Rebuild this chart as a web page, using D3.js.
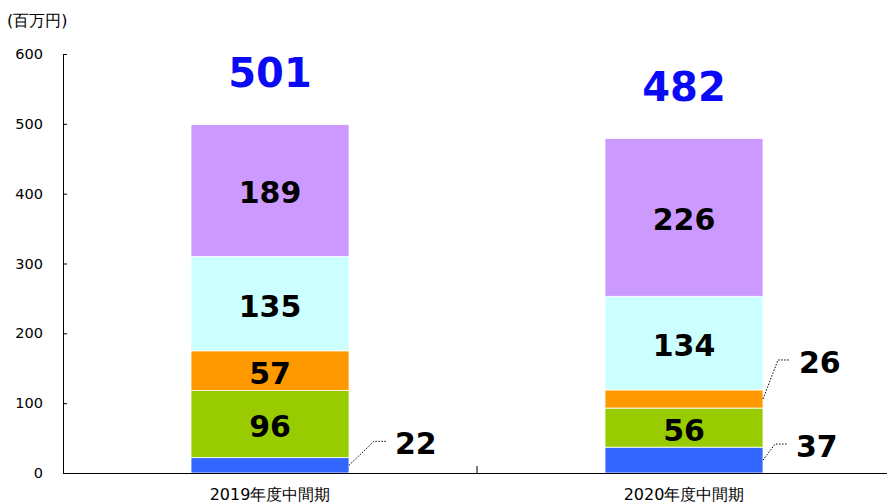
<!DOCTYPE html>
<html>
<head>
<meta charset="utf-8">
<script src="https://cdn.jsdelivr.net/npm/d3@7"></script>
<style>
  body { margin: 0; background: #fff; }
  text { font-family: "DejaVu Sans", Verdana, sans-serif; }
</style>
</head>
<body>
<div id="app"></div>
<script>
const periods = ["2019年度中間期", "2020年度中間期"];
const segments = ["s1", "s2", "s3", "s4", "s5"];
const segColors = ["#3366ff", "#99cc00", "#ff9900", "#ccffff", "#cc99ff"];
const values2019 = [22, 96, 57, 135, 189];
const values2020 = [37, 56, 26, 134, 226];
const totals = [501, 482];
const yTicks = [0, 100, 200, 300, 400, 500, 600];

const width = 887, height = 503;
const plotLeft = 63, plotRight = 891, plotTop = 54, plotBottom = 473;

const svg = d3.select("#app").append("svg")
    .attr("width", width)
    .attr("height", height);

const x = d3.scaleBand().domain(periods).range([plotLeft, plotRight]).paddingInner(0).paddingOuter(0);
const y = d3.scaleLinear().domain([0, 600]).range([plotBottom, plotTop]);
const barW = 158;

const rows = [values2019, values2020];
const stacked = rows.map((vals, i) => {
    let acc = 0;
    return vals.map((v, j) => {
        const d = { period: periods[i], key: segments[j], y0: acc, y1: acc + v, v: v, color: segColors[j] };
        acc += v;
        return d;
    });
});

// bars
stacked.forEach((col) => {
    svg.append("g").selectAll("rect").data(col).join("rect")
        .attr("x", d => x(d.period) + x.bandwidth() / 2 - barW / 2)
        .attr("width", barW)
        .attr("y", d => y(d.y1))
        .attr("height", d => y(d.y0) - y(d.y1))
        .attr("fill", d => d.color)
        .attr("stroke", "#fff")
        .attr("stroke-width", 0.8);
});

// axes
const yAxis = svg.append("g").attr("transform", `translate(${plotLeft},0)`)
    .call(d3.axisRight(y).tickValues(yTicks).tickSize(4).tickFormat(""));
yAxis.select(".domain").attr("stroke", "#000");
yAxis.selectAll("line").attr("stroke", "#000");

svg.append("g").selectAll("text").data(yTicks).join("text")
    .attr("x", 43)
    .attr("y", d => y(d))
    .attr("dy", "0.35em")
    .attr("text-anchor", "end")
    .attr("font-size", 14.5)
    .attr("fill", "#000")
    .text(d => d);

const xAxis = svg.append("g").attr("transform", `translate(0,${plotBottom})`)
    .call(d3.axisBottom(x).tickSize(0).tickFormat(""));
xAxis.select(".domain").attr("stroke", "#000").attr("stroke-width", 1.2);
// category divider tick
svg.append("line")
    .attr("x1", x(periods[1])).attr("x2", x(periods[1]))
    .attr("y1", plotBottom).attr("y2", plotBottom - 7)
    .attr("stroke", "#000");

svg.append("g").selectAll("text").data(periods).join("text")
    .attr("x", d => x(d) + x.bandwidth() / 2)
    .attr("y", 494)
    .attr("dy", "0.35em")
    .attr("text-anchor", "middle")
    .attr("font-size", 16)
    .text(d => d);

svg.append("text")
    .attr("x", 7).attr("y", 20)
    .attr("dy", "0.35em")
    .attr("font-size", 16)
    .text("(百万円)");

// totals
svg.append("g").selectAll("text").data(periods).join("text")
    .attr("x", d => x(d) + x.bandwidth() / 2)
    .attr("y", (d, i) => i === 0 ? 73 : 87)
    .attr("dy", "0.35em")
    .attr("text-anchor", "middle")
    .attr("font-size", 40)
    .attr("font-weight", "bold")
    .attr("fill", "#0a0af5")
    .text((d, i) => totals[i]);

// inside labels (large enough segments)
const inside = stacked.flat().filter(d => d.v >= 50);
svg.append("g").selectAll("text").data(inside).join("text")
    .attr("x", d => x(d.period) + x.bandwidth() / 2)
    .attr("y", d => y((d.y0 + d.y1) / 2))
    .attr("dy", "0.43em")
    .attr("text-anchor", "middle")
    .attr("font-size", 30)
    .attr("font-weight", "bold")
    .attr("fill", "#000")
    .text(d => d.v);

// outside labels with dotted leaders
const outside = stacked.flat().filter(d => d.v < 50);
const leaderShape = {
    "2019年度中間期s1": { dx: 25, rise: 24 },
    "2020年度中間期s3": { dx: 15, rise: 39 },
    "2020年度中間期s1": { dx: 12, rise: 16 }
};
outside.forEach((d) => {
    const bx = x(d.period) + x.bandwidth() / 2 + barW / 2;
    const by = y((d.y0 + d.y1) / 2);
    const shape = leaderShape[d.period + d.key] || { dx: 15, rise: 18 };
    const kx = bx + shape.dx;
    const ky = by - shape.rise;
    svg.append("polyline")
        .attr("points", `${bx},${by} ${kx},${ky} ${kx + 12},${ky}`)
        .attr("fill", "none")
        .attr("stroke", "#000")
        .attr("stroke-width", 1)
        .attr("stroke-dasharray", "1.5,1.5");
    svg.append("text")
        .attr("x", kx + 21)
        .attr("y", ky + 2)
        .attr("dy", "0.36em")
        .attr("font-size", 30)
        .attr("font-weight", "bold")
        .text(d.v);
});
</script>
</body>
</html>
